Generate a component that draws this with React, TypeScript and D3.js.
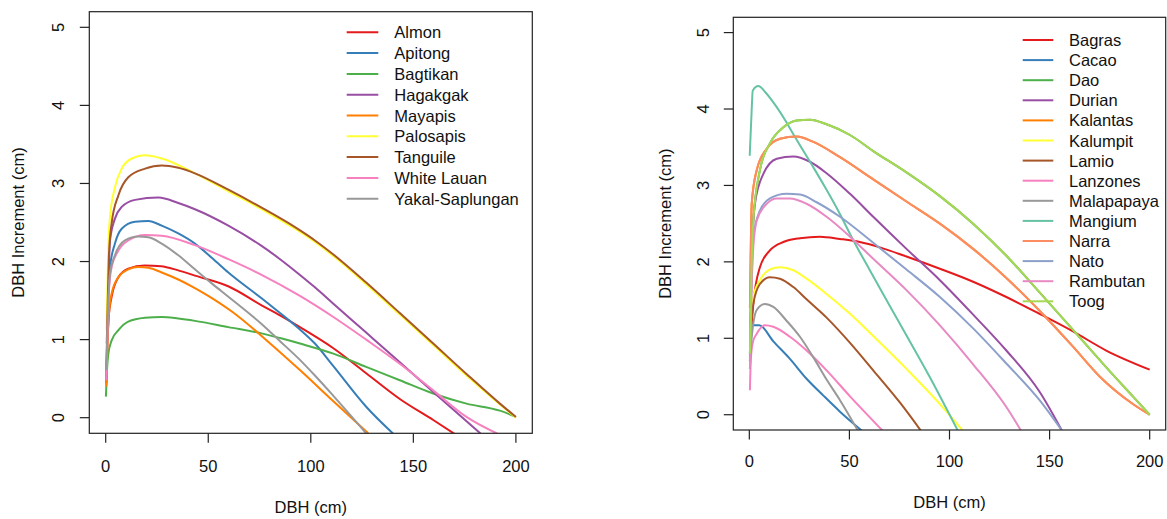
import React from "react";
import * as d3 from "d3";

type Pt = [number, number];

// ---------- Left panel data (DBH cm, increment cm) ----------
const leftSpecies = ["Almon", "Apitong", "Bagtikan", "Hagakgak", "Mayapis", "Palosapis", "Tanguile", "White Lauan", "Yakal-Saplungan"];
const almon: Pt[] = [[0.3,0.44],[0.8,0.95],[1.5,1.3],[2.9,1.55],[6.2,1.8],[11,1.91],[19,1.95],[27,1.94],[35,1.89],[43.5,1.82],[60,1.68],[76,1.44],[85,1.31],[94.7,1.16],[111,0.89],[127,0.57],[143.4,0.24],[159.7,-0.03],[172,-0.24]];
const apitong: Pt[] = [[0.3,0.6],[0.8,1.2],[1.5,1.7],[2.1,1.93],[4.5,2.23],[7.8,2.42],[14.3,2.51],[20.8,2.52],[27.3,2.46],[35.4,2.36],[43.5,2.23],[51.7,2.05],[59.8,1.86],[76,1.53],[85,1.34],[94.7,1.13],[102,0.95],[111,0.66],[127,0.14],[142,-0.25]];
const bagtikan: Pt[] = [[0.1,0.27],[0.6,0.6],[1.3,0.82],[2.9,0.99],[6.2,1.12],[11,1.23],[19.2,1.28],[27.3,1.29],[35.4,1.27],[43.5,1.24],[59.8,1.16],[76,1.08],[85,1.02],[94.7,0.95],[111,0.82],[127,0.65],[143.4,0.48],[159.7,0.31],[175.9,0.18],[192.2,0.09],[200,0.01]];
const hagakgak: Pt[] = [[0.3,0.5],[0.8,1.1],[1.3,1.7],[2.1,2.27],[4.5,2.55],[7.8,2.7],[14.3,2.79],[25.7,2.82],[35.4,2.75],[43.5,2.67],[59.8,2.46],[76,2.2],[85,2.03],[92.3,1.88],[102,1.67],[111,1.46],[127,1.09],[143.4,0.71],[159.7,0.33],[183.5,-0.22]];
const mayapis: Pt[] = [[0.3,0.4],[0.8,0.9],[1.5,1.3],[2.9,1.59],[6.2,1.8],[11,1.9],[15.9,1.93],[20.8,1.92],[27.3,1.86],[35.4,1.77],[43.5,1.66],[50,1.56],[62,1.35],[78.5,0.99],[94.7,0.61],[111,0.21],[128,-0.2]];
const palosapis: Pt[] = [[0.4,1.12],[0.8,1.6],[1.3,2.2],[2.1,2.57],[4.5,2.95],[7.8,3.19],[12.7,3.32],[19.2,3.36],[27.3,3.32],[43.5,3.13],[59.8,2.9],[76,2.67],[92.3,2.42],[102,2.25],[111,2.07],[127,1.71],[143.4,1.32],[159.7,0.93],[175.9,0.54],[192.2,0.17],[200,0.0]];
const tanguile: Pt[] = [[0.5,0.95],[1,1.5],[1.6,2.1],[2.9,2.49],[6.2,2.85],[11,3.08],[19.2,3.19],[27.3,3.23],[35.4,3.2],[43.5,3.13],[59.8,2.92],[76,2.69],[92.3,2.44],[102,2.27],[111,2.09],[127,1.73],[143.4,1.34],[159.7,0.95],[175.9,0.56],[192.2,0.18],[200,0.01]];
const whiteLauan: Pt[] = [[0.3,0.48],[0.8,1.0],[1.5,1.6],[2.9,1.93],[6.2,2.14],[11,2.27],[19.2,2.34],[27.3,2.33],[43.5,2.21],[59.8,2.03],[76,1.83],[94.7,1.56],[111,1.29],[127,1.0],[143.4,0.69],[159.7,0.35],[175.9,0.01],[192.2,-0.22]];
const yakalSaplungan: Pt[] = [[0.3,0.61],[0.8,1.1],[1.3,1.5],[2.1,1.85],[4.5,2.08],[9.4,2.27],[15.9,2.32],[20.8,2.31],[27.3,2.23],[35.4,2.08],[43.5,1.9],[51.7,1.72],[59.8,1.55],[76,1.2],[85,0.98],[94.7,0.74],[102,0.54],[111,0.28],[127,-0.2]];
const leftSeries: Pt[][] = [almon, apitong, bagtikan, hagakgak, mayapis, palosapis, tanguile, whiteLauan, yakalSaplungan];

// ---------- Right panel data ----------
const rightSpecies = ["Bagras", "Cacao", "Dao", "Durian", "Kalantas", "Kalumpit", "Lamio", "Lanzones", "Malapapaya", "Mangium", "Narra", "Nato", "Rambutan", "Toog"];
const bagras: Pt[] = [[0.3,0.7],[1,1.1],[2,1.45],[5.3,1.93],[10.3,2.15],[17,2.26],[25.3,2.31],[35.3,2.33],[45.3,2.3],[55.2,2.26],[65.2,2.19],[78.5,2.07],[95.2,1.91],[111.8,1.74],[128.4,1.54],[145,1.32],[161.7,1.09],[178.3,0.84],[200,0.59]];
const cacao: Pt[] = [[0.3,0.78],[0.8,1.05],[1.2,1.17],[5,1.17],[12,0.96],[20.3,0.73],[28.6,0.47],[37,0.25],[45.3,0.04],[56.7,-0.22]];
const dao: Pt[] = [[0.3,0.8],[1,1.8],[2,2.54],[5.3,3.2],[10.3,3.55],[17,3.76],[23.6,3.85],[30.3,3.86],[38.6,3.8],[50.3,3.66],[61.9,3.45],[78.5,3.17],[95.2,2.86],[111.8,2.5],[128.4,2.08],[145,1.6],[161.7,1.11],[178.3,0.62],[191.6,0.24],[200,0.0]];
const durian: Pt[] = [[0.3,0.7],[0.8,1.5],[1.2,2.1],[2.8,2.76],[7,3.15],[13.7,3.35],[22,3.38],[30.3,3.31],[38.6,3.16],[50.3,2.89],[61.9,2.59],[78.5,2.17],[95.2,1.76],[111.8,1.31],[128.4,0.84],[145,0.3],[156,-0.2]];
const kalantas: Pt[] = [[0.3,1.4],[0.8,2.3],[1.2,2.76],[3.7,3.2],[8.7,3.48],[15.3,3.61],[23.6,3.64],[32,3.57],[45.3,3.37],[61.9,3.08],[78.5,2.79],[95.2,2.5],[111.8,2.17],[128.4,1.79],[145,1.36],[161.7,0.89],[175,0.5],[191.6,0.14],[200,0.0]];
const kalumpit: Pt[] = [[0.3,0.9],[1,1.3],[2,1.54],[5.3,1.76],[10.3,1.9],[15.3,1.93],[22,1.89],[28.6,1.78],[38.6,1.58],[50.3,1.32],[61.9,1.03],[78.5,0.6],[95.2,0.14],[107,-0.22]];
const lamio: Pt[] = [[0.3,0.75],[1,1.2],[2,1.45],[5.3,1.71],[10.3,1.8],[15.3,1.78],[22,1.67],[28.6,1.51],[38.6,1.27],[50.3,0.94],[61.9,0.58],[75.2,0.16],[86,-0.22]];
const lanzones: Pt[] = [[0.3,0.32],[0.8,0.75],[1.8,0.95],[3.7,1.06],[7.8,1.17],[12,1.15],[20.3,1.02],[28.6,0.84],[38.6,0.58],[50.3,0.24],[67,-0.22]];
const malapapaya: Pt[] = [[0.3,0.6],[1.2,1.01],[3.7,1.37],[7.8,1.45],[12,1.41],[18.6,1.23],[25.3,1.02],[32,0.75],[38.6,0.46],[45.3,0.19],[54.5,-0.22]];
const mangium: Pt[] = [[0.2,3.39],[1.2,4.0],[1.7,4.24],[4.5,4.3],[8,4.22],[13,4.05],[18,3.85],[22,3.67],[31,3.28],[38,2.97],[44.4,2.67],[52,2.28],[60,1.9],[75,1.2],[90,0.5],[104,-0.2]];
const narra: Pt[] = [[0.3,1.4],[0.8,2.3],[1.2,2.76],[3.7,3.2],[8.7,3.48],[15.3,3.61],[23.6,3.64],[32,3.57],[45.3,3.37],[61.9,3.08],[78.5,2.79],[95.2,2.5],[111.8,2.17],[128.4,1.79],[145,1.36],[161.7,0.89],[175,0.5],[191.6,0.14],[200,0.0]];
const nato: Pt[] = [[0.3,0.8],[1,1.6],[2,2.33],[5.3,2.67],[10.3,2.83],[18.6,2.89],[25.3,2.88],[33.6,2.78],[45.3,2.59],[61.9,2.25],[78.5,1.9],[95.2,1.54],[111.8,1.13],[128.4,0.67],[145,0.19],[156.5,-0.22]];
const rambutan: Pt[] = [[0.3,0.6],[1,1.5],[2,2.2],[3.7,2.54],[8.7,2.76],[13.7,2.83],[20.3,2.83],[28.6,2.76],[38.6,2.59],[50.3,2.33],[61.9,2.04],[78.5,1.63],[95.2,1.17],[111.8,0.66],[128.4,0.1],[136,-0.22]];
const toog: Pt[] = [[0.3,0.8],[1,1.8],[2,2.54],[5.3,3.2],[10.3,3.55],[17,3.76],[23.6,3.85],[30.3,3.86],[38.6,3.8],[50.3,3.66],[61.9,3.45],[78.5,3.17],[95.2,2.86],[111.8,2.5],[128.4,2.08],[145,1.6],[161.7,1.11],[178.3,0.62],[191.6,0.24],[200,0.0]];
const rightSeries: Pt[][] = [bagras, cacao, dao, durian, kalantas, kalumpit, lamio, lanzones, malapapaya, mangium, narra, nato, rambutan, toog];

const xTicks = [0, 50, 100, 150, 200];
const yTicks = [0, 1, 2, 3, 4, 5];
const xTitle = "DBH (cm)";
const yTitle = "DBH Increment (cm)";

const set1 = ["#E41A1C", "#377EB8", "#4DAF4A", "#984EA3", "#FF7F00", "#FFFF33", "#A65628", "#F781BF", "#999999"];
const set2 = ["#66C2A5", "#FC8D62", "#8DA0CB", "#E78AC3", "#A6D854"];
const leftColors = set1;
const rightColors = [...set1, ...set2];

const FONT = "'Liberation Sans', Arial, Helvetica, sans-serif";
const FS = 16.5;

interface PanelProps {
  id: string;
  box: { x0: number; x1: number; y0: number; y1: number };
  species: string[];
  series: Pt[][];
  colors: string[];
  yLabelX: number;
  yTitleX: number;
  xLabelY: number;
  xTitleY: number;
  legend: { lx0: number; lx1: number; tx: number; y0: number; dy: number };
}

function Panel(p: PanelProps) {
  const x = d3.scaleLinear().domain([-8, 208]).range([p.box.x0, p.box.x1]);
  const y = d3.scaleLinear().domain([-0.2, 5.2]).range([p.box.y1, p.box.y0]);
  const line = d3
    .line<Pt>()
    .x((d) => x(d[0]))
    .y((d) => y(d[1]))
    .curve(d3.curveMonotoneX);
  const tickLen = 9.5;
  return (
    <g>
      <defs>
        <clipPath id={p.id}>
          <rect x={p.box.x0} y={p.box.y0} width={p.box.x1 - p.box.x0} height={p.box.y1 - p.box.y0} />
        </clipPath>
      </defs>
      <g clipPath={`url(#${p.id})`}>
        {p.series.map((s, i) => (
          <path key={i} d={line(s) || ""} fill="none" stroke={p.colors[i]} strokeWidth={2} strokeLinejoin="round" />
        ))}
      </g>
      <rect x={p.box.x0} y={p.box.y0} width={p.box.x1 - p.box.x0} height={p.box.y1 - p.box.y0} fill="none" stroke="#222" strokeWidth={1.2} />
      {xTicks.map((t) => (
        <g key={"x" + t}>
          <line x1={x(t)} x2={x(t)} y1={p.box.y1} y2={p.box.y1 + tickLen} stroke="#222" strokeWidth={1.2} />
          <text x={x(t)} y={p.xLabelY} textAnchor="middle" dominantBaseline="central" fontFamily={FONT} fontSize={FS} fill="#111">
            {t}
          </text>
        </g>
      ))}
      {yTicks.map((t) => (
        <g key={"y" + t}>
          <line x1={p.box.x0 - tickLen} x2={p.box.x0} y1={y(t)} y2={y(t)} stroke="#222" strokeWidth={1.2} />
          <text
            transform={`translate(${p.yLabelX},${y(t)}) rotate(-90)`}
            textAnchor="middle"
            dominantBaseline="central"
            fontFamily={FONT}
            fontSize={FS}
            fill="#111"
          >
            {t}
          </text>
        </g>
      ))}
      <text x={(p.box.x0 + p.box.x1) / 2} y={p.xTitleY} textAnchor="middle" dominantBaseline="central" fontFamily={FONT} fontSize={FS} fill="#111">
        {xTitle}
      </text>
      <text
        transform={`translate(${p.yTitleX},${(p.box.y0 + p.box.y1) / 2}) rotate(-90)`}
        textAnchor="middle"
        dominantBaseline="central"
        fontFamily={FONT}
        fontSize={FS}
        fill="#111"
      >
        {yTitle}
      </text>
      {p.species.map((name, i) => {
        const ly = p.legend.y0 + i * p.legend.dy;
        return (
          <g key={name}>
            <line x1={p.legend.lx0} x2={p.legend.lx1} y1={ly} y2={ly} stroke={p.colors[i]} strokeWidth={2} />
            <text x={p.legend.tx} y={ly} dominantBaseline="central" fontFamily={FONT} fontSize={FS} fill="#111">
              {name}
            </text>
          </g>
        );
      })}
    </g>
  );
}

export default function App() {
  return (
    <svg width={1167} height={519} style={{ position: "absolute", left: 0, top: 0, background: "#fff" }}>
      <rect x={0} y={0} width={1167} height={519} fill="#fff" />
      <Panel
        id="clipL"
        box={{ x0: 89.3, x1: 532.3, y0: 11.7, y1: 433.3 }}
        species={leftSpecies}
        series={leftSeries}
        colors={leftColors}
        yLabelX={58.3}
        yTitleX={18.3}
        xLabelY={465.5}
        xTitleY={506.5}
        legend={{ lx0: 346.7, lx1: 378.3, tx: 394.3, y0: 32.3, dy: 20.8 }}
      />
      <Panel
        id="clipR"
        box={{ x0: 733.3, x1: 1165.7, y0: 17.3, y1: 430 }}
        species={rightSpecies}
        series={rightSeries}
        colors={rightColors}
        yLabelX={703.3}
        yTitleX={665}
        xLabelY={461}
        xTitleY={501.7}
        legend={{ lx0: 1022.7, lx1: 1053.3, tx: 1069, y0: 40, dy: 20.1 }}
      />
    </svg>
  );
}
